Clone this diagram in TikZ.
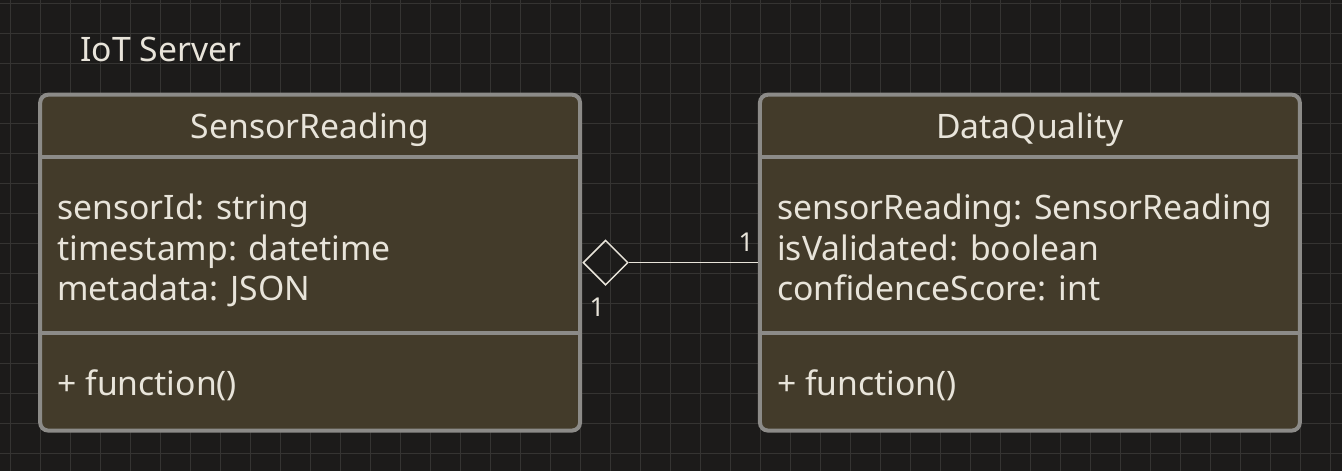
\documentclass[tikz,border=0pt]{standalone}
\usepackage{fontspec}
\setmainfont{Noto Sans}
\usetikzlibrary{positioning,shapes.geometric}
\definecolor{canvas}{HTML}{1C1B1A}
\definecolor{gridgray}{HTML}{353432}
\definecolor{boxfill}{HTML}{433B2A}
\definecolor{boxline}{HTML}{8C8B88}
\definecolor{ink}{HTML}{E8E4DA}
\tikzset{class box/.style={draw=boxline,fill=boxfill,line width=4pt,rounded corners=8pt,minimum width=540pt,minimum height=336pt,inner sep=0pt},
    class name/.style={text=ink,font=\fontsize{33.7}{40}\selectfont,inner sep=0pt,anchor=base},
    member/.style={text=ink,font=\fontsize{33.7}{40}\selectfont,inner sep=0pt,text height=24pt,text depth=7pt},
    sep line/.style={draw=boxline,line width=4pt},
    agg mark/.style={diamond,draw=ink,line width=1.5pt,minimum width=45pt,minimum height=45pt,inner sep=0pt},
    mult/.style={text=ink,font=\fontsize{26}{30}\selectfont,inner sep=0pt},}
\newcommand{\sepl}[2]{\draw[sep line] ([yshift=-#2]#1.north west) -- ([yshift=-#2]#1.north east);}

\begin{document}
\begin{tikzpicture}[x=1pt,y=-1pt]
        \fill[canvas] (0,0) rectangle (1342,471);
        \foreach \gx in {10,40,...,1330} \draw[gridgray] (\gx,0) -- (\gx,471);
        \foreach \gy in {3,33,...,453} \draw[gridgray] (0,\gy) -- (1342,\gy);

        \node[text=ink,font=\fontsize{33.7}{40}\selectfont,inner sep=0pt,anchor=base west] (title) at (80,61) {IoT Server};

        \node[class box] (sr) at (310,262.5) {};
        \node[class box] (dq) at (1030,262.5) {};
        \sepl{sr}{64pt}
        \sepl{sr}{240pt}
        \sepl{dq}{64pt}
        \sepl{dq}{240pt}

        \node[class name] (srname) at ([yshift=-46pt]sr.north) {SensorReading};
        \node[class name] (dqname) at ([yshift=-46pt]dq.north) {DataQuality};

        \node[member,anchor=base west] (sr1) at ([xshift=19pt,yshift=-127pt]sr.north west) {sensorId: string};
        \node[member] (sr2) [below right = 9pt and 0pt of sr1.south west,anchor=north west] {timestamp: datetime};
        \node[member] (sr3) [below right = 9pt and 0pt of sr2.south west,anchor=north west] {metadata: JSON};
        \node[member,anchor=base west] (srf) at ([xshift=19pt,yshift=-303pt]sr.north west) {+ function()};

        \node[member,anchor=base west] (dq1) at ([xshift=19pt,yshift=-127pt]dq.north west) {sensorReading: SensorReading};
        \node[member] (dq2) [below right = 9pt and 0pt of dq1.south west,anchor=north west] {isValidated: boolean};
        \node[member] (dq3) [below right = 9pt and 0pt of dq2.south west,anchor=north west] {confidenceScore: int};
        \node[member,anchor=base west] (dqf) at ([xshift=19pt,yshift=-303pt]dq.north west) {+ function()};

        \node[agg mark] (agg) at (605.5,262.5) {};
        \draw[draw=ink,line width=1.5pt] (agg.east) -- (agg.east -| dq.west);
        \node[mult] (m1) at (597,307) {1};
        \node[mult] (m2) at (746,242) {1};
    \end{tikzpicture}
\end{document}
